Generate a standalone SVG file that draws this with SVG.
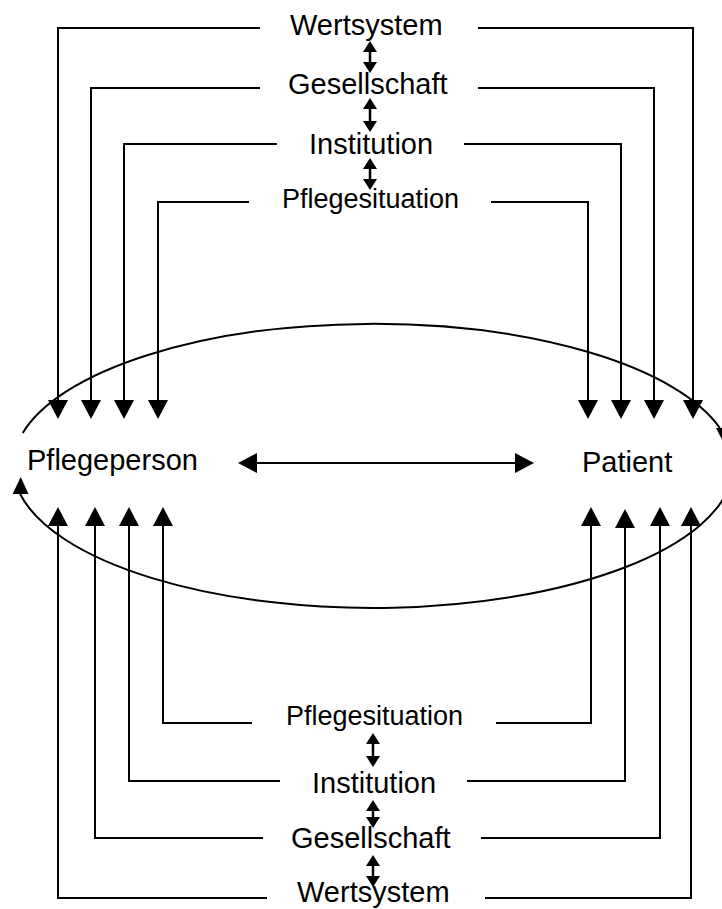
<svg xmlns="http://www.w3.org/2000/svg" width="722" height="909" viewBox="0 0 722 909">
<style>
text{font-family:"Liberation Sans",Arial,sans-serif;fill:#000}
.lbl{font-size:29px}
.sit{font-size:27px}
.ln{stroke:#000;stroke-width:2;fill:none}
.arr{marker-end:url(#big)}
.dbl{marker-start:url(#sm);marker-end:url(#sm);stroke-width:2.5}
.dblb{marker-start:url(#big);marker-end:url(#big)}
</style>
<defs>
<marker id="big" markerUnits="userSpaceOnUse" orient="auto-start-reverse" refX="0" refY="10" markerWidth="20" markerHeight="20" overflow="visible"><path d="M0,0 L19,10 L0,20 z" fill="#000"/></marker>
<marker id="sm" markerUnits="userSpaceOnUse" orient="auto-start-reverse" refX="0" refY="7" markerWidth="11" markerHeight="14" overflow="visible"><path d="M0,0 L11,7 L0,14 z" fill="#000"/></marker>
</defs>
<rect width="722" height="909" fill="#fff"/>
<g id="top-wertsystem"><text class="lbl" x="290" y="35">Wertsystem</text></g>
<g id="top-gesellschaft"><text class="lbl" x="288" y="94">Gesellschaft</text></g>
<g id="top-institution"><text class="lbl" x="309" y="154">Institution</text></g>
<g id="top-pflegesituation"><text class="sit" x="282" y="208">Pflegesituation</text></g>
<g id="pflegeperson"><text class="lbl" x="27" y="470">Pflegeperson</text></g>
<g id="patient"><text class="lbl" x="582" y="472">Patient</text></g>
<g id="bot-pflegesituation"><text class="sit" x="286" y="725">Pflegesituation</text></g>
<g id="bot-institution"><text class="lbl" x="312" y="793">Institution</text></g>
<g id="bot-gesellschaft"><text class="lbl" x="291" y="848">Gesellschaft</text></g>
<g id="bot-wertsystem"><text class="lbl" x="297" y="902">Wertsystem</text></g>
<g id="connectors">
<path class="ln" d="M22.7,433 A360,142 0 0 1 719.9,428"/>
<path class="ln" d="M731.7,478 A360,142 0 0 1 20.1,494"/>
<polygon points="716,428 736,428 726,447" fill="#000"/>
<polygon points="20.7,477 12.7,494 28.5,494" fill="#000"/>
<path class="ln dblb" d="M257,463 H515"/>
<path class="ln arr" d="M260,28 H58 V400"/>
<path class="ln arr" d="M478,28 H693 V400"/>
<path class="ln arr" d="M260,88 H91 V400"/>
<path class="ln arr" d="M478,88 H654 V400"/>
<path class="ln arr" d="M277,144 H124 V400"/>
<path class="ln arr" d="M464,144 H621 V400"/>
<path class="ln arr" d="M249,202 H158 V400"/>
<path class="ln arr" d="M491,202 H588 V400"/>
<path class="ln arr" d="M252,723 H163 V526"/>
<path class="ln arr" d="M496,723 H591 V526"/>
<path class="ln arr" d="M280,781 H129 V526"/>
<path class="ln arr" d="M467,781 H625 V528"/>
<path class="ln arr" d="M263,838 H95 V526"/>
<path class="ln arr" d="M481,838 H660 V526"/>
<path class="ln arr" d="M267,898 H58 V526"/>
<path class="ln arr" d="M485,898 H691 V526"/>
<path class="ln dbl" d="M370,52 V62"/>
<path class="ln dbl" d="M370,109 V121"/>
<path class="ln dbl" d="M370,169 V179"/>
<path class="ln dbl" d="M373,744 V756"/>
<path class="ln dbl" d="M373,811 V817"/>
<path class="ln dbl" d="M373,866 V876"/>
</g>
</svg>
